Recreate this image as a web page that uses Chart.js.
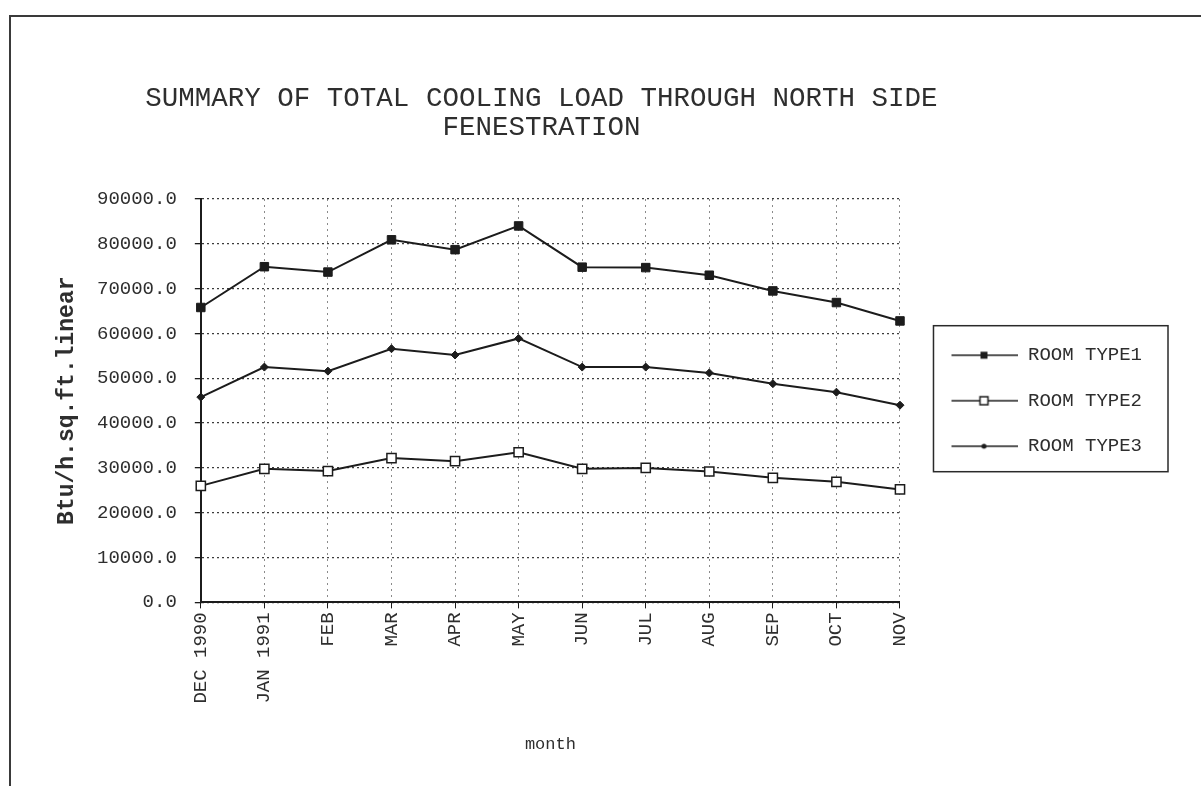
<!DOCTYPE html>
<html>
<head>
<meta charset="utf-8">
<title>Total cooling load - north side fenestration</title>
<script src="https://cdn.jsdelivr.net/npm/chart.js@4.4.1/dist/chart.umd.min.js"></script>
<style>
    html, body { margin: 0; padding: 0; background: #fff; overflow: hidden; }
    #frame { position: absolute; left: 9px; top: 15px; right: 0; bottom: 0; border-left: 2px solid #3a3a3a; border-top: 2px solid #3a3a3a; }
    #wrap { position: absolute; left: 0; top: 0; width: 1201px; height: 786px; }
</style>
</head>
<body>
<div id="frame"></div>
<div id="wrap"><canvas id="coolingChart" width="1201" height="786"></canvas></div>
<script>
// data
const months = ['DEC 1990', 'JAN 1991', 'FEB', 'MAR', 'APR', 'MAY', 'JUN', 'JUL', 'AUG', 'SEP', 'OCT', 'NOV'];
const roomType1 = [65800, 74900, 73700, 80900, 78700, 84000, 74800, 74700, 73000, 69500, 66900, 62800];
const roomType2 = [26000, 29800, 29300, 32200, 31500, 33500, 29800, 30000, 29200, 27800, 26900, 25200];
const roomType3 = [45800, 52500, 51600, 56600, 55200, 58900, 52500, 52500, 51200, 48800, 46900, 44000];
const seriesNames = ['ROOM TYPE1', 'ROOM TYPE2', 'ROOM TYPE3'];
const yMin = 0;
const yMax = 90000;
const yStep = 10000;

const FONT = "'Liberation Mono', 'DejaVu Sans Mono', monospace";
const INK = '#1c1c1c';
const TEXT = '#2e2e2e';

// little line+marker swatch used as the legend symbol
function legendSample(kind) {
    const c = document.createElement('canvas');
    c.width = 92;
    c.height = 14;
    const g = c.getContext('2d');
    g.strokeStyle = INK;
    g.lineWidth = 1.5;
    g.beginPath();
    g.moveTo(25, 7);
    g.lineTo(92, 7);
    g.stroke();
    g.fillStyle = INK;
    if (kind === 'filled') {
        g.fillRect(54, 3.5, 7, 7);
    } else if (kind === 'open') {
        g.fillStyle = '#fff';
        g.fillRect(53.5, 3, 8, 8);
        g.strokeRect(53.5, 3, 8, 8);
    } else {
        g.beginPath();
        g.arc(57.5, 7, 2.5, 0, Math.PI * 2);
        g.fill();
    }
    return c;
}
const samples = [legendSample('filled'), legendSample('open'), legendSample('dot')];

// title sits a bit left of the plot centre in the original and must not be squeezed
const titleShift = {
    id: 'titleShift',
    afterLayout(chart) {
        const t = chart.titleBlock;
        if (!t) return;
        const c = (t.left + t.right) / 2 - 9;
        t.left = c - 450;
        t.right = c + 450;
        t.width = 900;
    }
};

// draws the box round the legend
const legendFrame = {
    id: 'legendFrame',
    afterDraw(chart) {
        const boxes = chart.legend.legendHitBoxes;
        if (!boxes || !boxes.length) return;
        const left = Math.min(...boxes.map(b => b.left)) + 7;
        const right = Math.max(...boxes.map(b => b.left + b.width)) + 26;
        const top = Math.min(...boxes.map(b => b.top)) - 20;
        const bottom = Math.max(...boxes.map(b => b.top + b.height)) + 16;
        const ctx = chart.ctx;
        ctx.save();
        ctx.strokeStyle = '#2a2a2a';
        ctx.lineWidth = 1.5;
        ctx.strokeRect(left, top, right - left, bottom - top);
        ctx.restore();
    }
};

const ctx = document.getElementById('coolingChart');
new Chart(ctx, {
    type: 'line',
    data: {
        labels: months,
        datasets: [
            {
                label: seriesNames[0],
                data: roomType1,
                borderColor: INK,
                borderWidth: 2,
                pointStyle: 'rect',
                pointRadius: 6,
                pointBackgroundColor: INK,
                pointBorderColor: INK,
                pointBorderWidth: 1
            },
            {
                label: seriesNames[1],
                data: roomType2,
                borderColor: INK,
                borderWidth: 2,
                pointStyle: 'rect',
                pointRadius: 6.5,
                pointBackgroundColor: '#fff',
                pointBorderColor: INK,
                pointBorderWidth: 1.5
            },
            {
                label: seriesNames[2],
                data: roomType3,
                borderColor: INK,
                borderWidth: 2,
                pointStyle: 'rectRot',
                pointRadius: 4,
                pointBackgroundColor: INK,
                pointBorderColor: INK,
                pointBorderWidth: 1
            }
        ]
    },
    options: {
        responsive: false,
        animation: false,
        layout: { padding: { left: 56, right: 49, top: 40, bottom: 31 } },
        plugins: {
            title: {
                display: true,
                fullSize: false,
                text: ['SUMMARY OF TOTAL COOLING LOAD THROUGH NORTH SIDE', 'FENESTRATION'],
                color: TEXT,
                font: { family: FONT, size: 27.5, weight: 'normal', lineHeight: 1.055 },
                padding: { top: 44, bottom: 57 }
            },
            legend: {
                position: 'right',
                fullSize: false,
                labels: {
                    usePointStyle: true,
                    pointStyleWidth: 92,
                    padding: 26.5,
                    color: TEXT,
                    font: { family: FONT, size: 19 },
                    generateLabels: () => seriesNames.map((name, i) => ({
                        text: name,
                        pointStyle: samples[i],
                        datasetIndex: i,
                        fillStyle: 'rgba(0,0,0,0)',
                        strokeStyle: 'rgba(0,0,0,0)',
                        lineWidth: 0,
                        fontColor: TEXT,
                        hidden: false
                    }))
                }
            },
            tooltip: { enabled: false }
        },
        scales: {
            x: {
                offset: false,
                grid: { color: '#8a8a8a', lineWidth: 1, tickLength: 6, tickColor: INK, tickBorderDash: [] },
                border: { display: true, color: INK, width: 2, dash: [2, 4] },
                ticks: {
                    color: TEXT,
                    font: { family: FONT, size: 19 },
                    maxRotation: 90,
                    minRotation: 90,
                    padding: 4,
                    autoSkip: false
                },
                title: {
                    display: true,
                    text: 'month',
                    color: TEXT,
                    font: { family: FONT, size: 17 },
                    padding: { top: 27, bottom: 0 }
                }
            },
            y: {
                min: yMin,
                max: yMax,
                grid: { color: '#3c3c3c', lineWidth: 1.3, tickLength: 6, tickColor: INK },
                border: { display: true, color: INK, width: 2, dash: [2, 3] },
                ticks: {
                    stepSize: yStep,
                    color: TEXT,
                    font: { family: FONT, size: 19 },
                    padding: 18,
                    callback: v => v.toFixed(1)
                },
                title: {
                    display: true,
                    text: 'Btu/h.sq.ft.linear',
                    color: TEXT,
                    font: { family: FONT, size: 23, weight: 'bold', lineHeight: 1 },
                    padding: { top: 0, bottom: 0 }
                }
            }
        }
    },
    plugins: [titleShift, legendFrame]
});
</script>
</body>
</html>
